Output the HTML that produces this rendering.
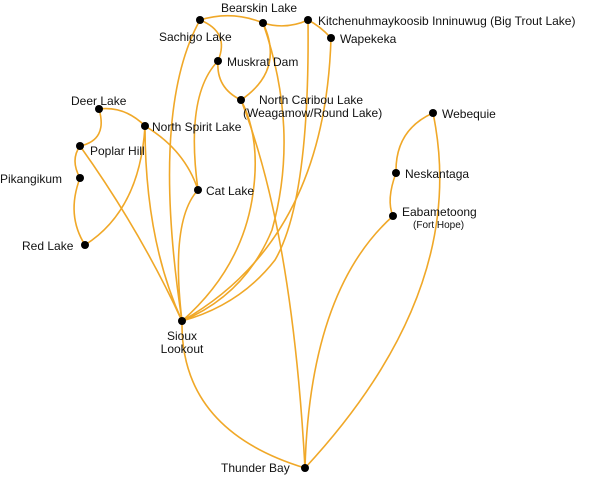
<!DOCTYPE html>
<html><head><meta charset="utf-8"><style>
html,body{margin:0;padding:0;background:#fff}
svg{display:block}
text{font-family:"Liberation Sans",sans-serif;font-size:12px;fill:#111}
path{fill:none;stroke:#f0a828;stroke-width:1.6}
</style></head><body>
<svg width="610" height="480" viewBox="0 0 610 480">
<path d="M200,20 Q232,10 263,23"/>
<path d="M263,23 Q286,30 308,20"/>
<path d="M308,20 Q320,26 331,38"/>
<path d="M200,20 Q230,32 218,61"/>
<path d="M218,61 Q216,88 241,100"/>
<path d="M263,23 Q285,70 241,100"/>
<path d="M218,61 Q185,95 198,190"/>
<path d="M200,20 Q150,110 182,321"/>
<path d="M241,100 Q262,140 252,200 Q240,270 182,321"/>
<path d="M263,23 Q300,130 272,230 Q245,295 182,321"/>
<path d="M308,20 Q310,200 275,260 Q240,305 182,321"/>
<path d="M331,38 Q325,240 182,321"/>
<path d="M241,100 Q292,230 305,468"/>
<path d="M99,109 Q125,106 145,126"/>
<path d="M145,126 Q185,150 198,190"/>
<path d="M99,109 Q108,140 80,146"/>
<path d="M80,146 Q70,160 80,178"/>
<path d="M80,178 Q66,215 85,245"/>
<path d="M145,126 Q140,210 85,245"/>
<path d="M145,126 Q145,240 182,321"/>
<path d="M80,146 Q140,230 182,321"/>
<path d="M198,190 Q170,220 182,321"/>
<path d="M182,321 Q180,430 305,468"/>
<path d="M433,113 Q395,130 396,173"/>
<path d="M396,173 Q386,200 393,216"/>
<path d="M393,216 Q310,290 305,468"/>
<path d="M433,113 Q470,290 305,468"/>
<g fill="#000">
<circle cx="200" cy="20" r="4"/><circle cx="263" cy="23" r="4"/>
<circle cx="308" cy="20" r="4"/><circle cx="331" cy="38" r="4"/>
<circle cx="218" cy="61" r="4"/><circle cx="241" cy="100" r="4"/>
<circle cx="99" cy="109" r="4"/><circle cx="145" cy="126" r="4"/>
<circle cx="80" cy="146" r="4"/><circle cx="80" cy="178" r="4"/>
<circle cx="85" cy="245" r="4"/><circle cx="198" cy="190" r="4"/>
<circle cx="182" cy="321" r="4"/><circle cx="305" cy="468" r="4"/>
<circle cx="433" cy="113" r="4"/><circle cx="396" cy="173" r="4"/>
<circle cx="393" cy="216" r="4"/>
</g>
<text x="221" y="12">Bearskin Lake</text>
<text x="159" y="41">Sachigo Lake</text>
<text x="318" y="25">Kitchenuhmaykoosib Inninuwug (Big Trout Lake)</text>
<text x="340" y="43">Wapekeka</text>
<text x="227" y="66">Muskrat Dam</text>
<text x="259" y="104">North Caribou Lake</text>
<text x="243" y="117">(Weagamow/Round Lake)</text>
<text x="71" y="105">Deer Lake</text>
<text x="152" y="131">North Spirit Lake</text>
<text x="90" y="155">Poplar Hill</text>
<text x="0" y="183">Pikangikum</text>
<text x="22" y="250">Red Lake</text>
<text x="206" y="195">Cat Lake</text>
<text x="182" y="340" text-anchor="middle">Sioux</text>
<text x="182" y="353" text-anchor="middle">Lookout</text>
<text x="221" y="472">Thunder Bay</text>
<text x="442" y="118">Webequie</text>
<text x="405" y="178">Neskantaga</text>
<text x="402" y="216">Eabametoong</text>
<text x="413" y="228" style="font-size:10px">(Fort Hope)</text>
</svg>
</body></html>
